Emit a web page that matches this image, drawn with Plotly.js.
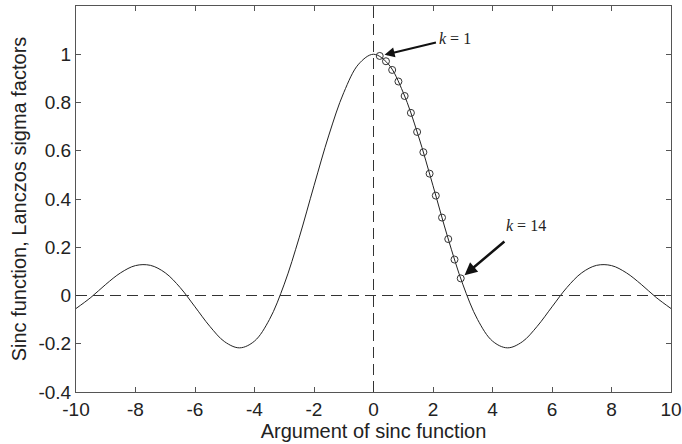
<!DOCTYPE html>
<html>
<head>
<meta charset="utf-8">
<script src="https://cdn.plot.ly/plotly-3.0.1.min.js"></script>
<style>
  html, body { margin: 0; padding: 0; background: #fff; }
  #chart { width: 682px; height: 444px; }
</style>
</head>
<body>
<div id="chart"></div>
<script>
// Sinc function sampled on [-10, 10]
const sincX = [-10, -9.5, -9, -8.5, -8, -7.5, -7, -6.5, -6, -5.5, -5, -4.5, -4, -3.5, -3, -2.5, -2, -1.5, -1, -0.5,
               0, 0.5, 1, 1.5, 2, 2.5, 3, 3.5, 4, 4.5, 5, 5.5, 6, 6.5, 7, 7.5, 8, 8.5, 9, 9.5, 10];
const sincY = [-0.054, -0.008, 0.046, 0.094, 0.124, 0.125, 0.094, 0.033, -0.047, -0.128, -0.192, -0.217, -0.189, -0.100, 0.047, 0.239, 0.455, 0.665, 0.841, 0.959,
               1.000, 0.959, 0.841, 0.665, 0.455, 0.239, 0.047, -0.100, -0.189, -0.217, -0.192, -0.128, -0.047, 0.033, 0.094, 0.125, 0.124, 0.094, 0.046, -0.008, -0.054];

// Lanczos sigma factors, k = 1 .. 14
const sigmaK = [1, 2, 3, 4, 5, 6, 7, 8, 9, 10, 11, 12, 13, 14];
const sigmaX = [0.209, 0.419, 0.628, 0.838, 1.047, 1.257, 1.466, 1.676, 1.885, 2.094, 2.304, 2.513, 2.723, 2.932];
const sigmaY = [0.993, 0.971, 0.935, 0.887, 0.827, 0.757, 0.678, 0.594, 0.505, 0.414, 0.323, 0.234, 0.149, 0.071];

const xTicks = [-10, -8, -6, -4, -2, 0, 2, 4, 6, 8, 10];
const xTickText = ['-10', '-8', '-6', '-4', '-2', '0', '2', '4', '6', '8', '10'];
const yTicks = [-0.4, -0.2, 0, 0.2, 0.4, 0.6, 0.8, 1];
const yTickText = ['-0.4', '-0.2', '0', '0.2', '0.4', '0.6', '0.8', '1'];

const ink = '#222';
const frame = '#555';
const sans = 'Liberation Sans, Arial, sans-serif';

const traces = [
  {
    x: sincX, y: sincY, type: 'scatter', mode: 'lines',
    line: { color: ink, width: 1, shape: 'spline', smoothing: 1 },
    hoverinfo: 'skip', showlegend: false
  },
  {
    x: sigmaX, y: sigmaY, type: 'scatter', mode: 'markers',
    marker: { symbol: 'circle-open', size: 7, color: '#333', line: { width: 1, color: '#333' } },
    text: sigmaK.map(k => 'k = ' + k),
    showlegend: false
  }
];

const axisCommon = {
  showline: true, mirror: 'ticks', linecolor: frame, linewidth: 1,
  ticks: 'inside', ticklen: 5, tickcolor: frame, tickwidth: 1,
  showgrid: false, zeroline: false,
  tickfont: { family: sans, size: 19, color: ink }
};

const dashed = { color: '#333', width: 1, dash: '11px,6px' };
const last = sigmaX.length - 1;

const layout = {
  width: 682, height: 444,
  margin: { l: 76, r: 11, t: 6, b: 52 },
  paper_bgcolor: '#fff', plot_bgcolor: '#fff',
  xaxis: Object.assign({}, axisCommon, {
    range: [-10, 10], tickvals: xTicks, ticktext: xTickText,
    title: { text: 'Argument of sinc function', standoff: 0,
             font: { family: sans, size: 20, color: ink } }
  }),
  yaxis: Object.assign({}, axisCommon, {
    range: [-0.4, 1.2], tickvals: yTicks, ticktext: yTickText,
    title: { text: 'Sinc function, Lanczos sigma factors', standoff: 6,
             font: { family: sans, size: 20, color: ink } }
  }),
  shapes: [
    { type: 'line', xref: 'paper', x0: 0, x1: 1, yref: 'y', y0: 0, y1: 0, line: dashed },
    { type: 'line', xref: 'x', x0: 0, x1: 0, yref: 'paper', y0: 0, y1: 1, line: dashed }
  ],
  annotations: [
    {
      x: sigmaX[0], y: sigmaY[0], xref: 'x', yref: 'y',
      ax: 2.15, ay: 1.05, axref: 'x', ayref: 'y',
      text: '', showarrow: true, arrowhead: 2, arrowsize: 1, arrowwidth: 2,
      arrowcolor: '#111', standoff: 5
    },
    {
      x: 2.12, y: 1.066, xref: 'x', yref: 'y', xanchor: 'left', yanchor: 'middle',
      text: '<i>k</i> = ' + sigmaK[0], showarrow: false,
      font: { family: 'Liberation Serif, Times New Roman, serif', size: 16, color: ink }
    },
    {
      x: sigmaX[last], y: sigmaY[last], xref: 'x', yref: 'y',
      ax: 4.45, ay: 0.229, axref: 'x', ayref: 'y',
      text: '', showarrow: true, arrowhead: 2, arrowsize: 1, arrowwidth: 2.5,
      arrowcolor: '#111', standoff: 5
    },
    {
      x: 4.38, y: 0.292, xref: 'x', yref: 'y', xanchor: 'left', yanchor: 'middle',
      text: '<i>k</i> = ' + sigmaK[last], showarrow: false,
      font: { family: 'Liberation Serif, Times New Roman, serif', size: 16, color: ink }
    }
  ]
};

Plotly.newPlot('chart', traces, layout, { displayModeBar: false, staticPlot: true });
</script>
</body>
</html>
